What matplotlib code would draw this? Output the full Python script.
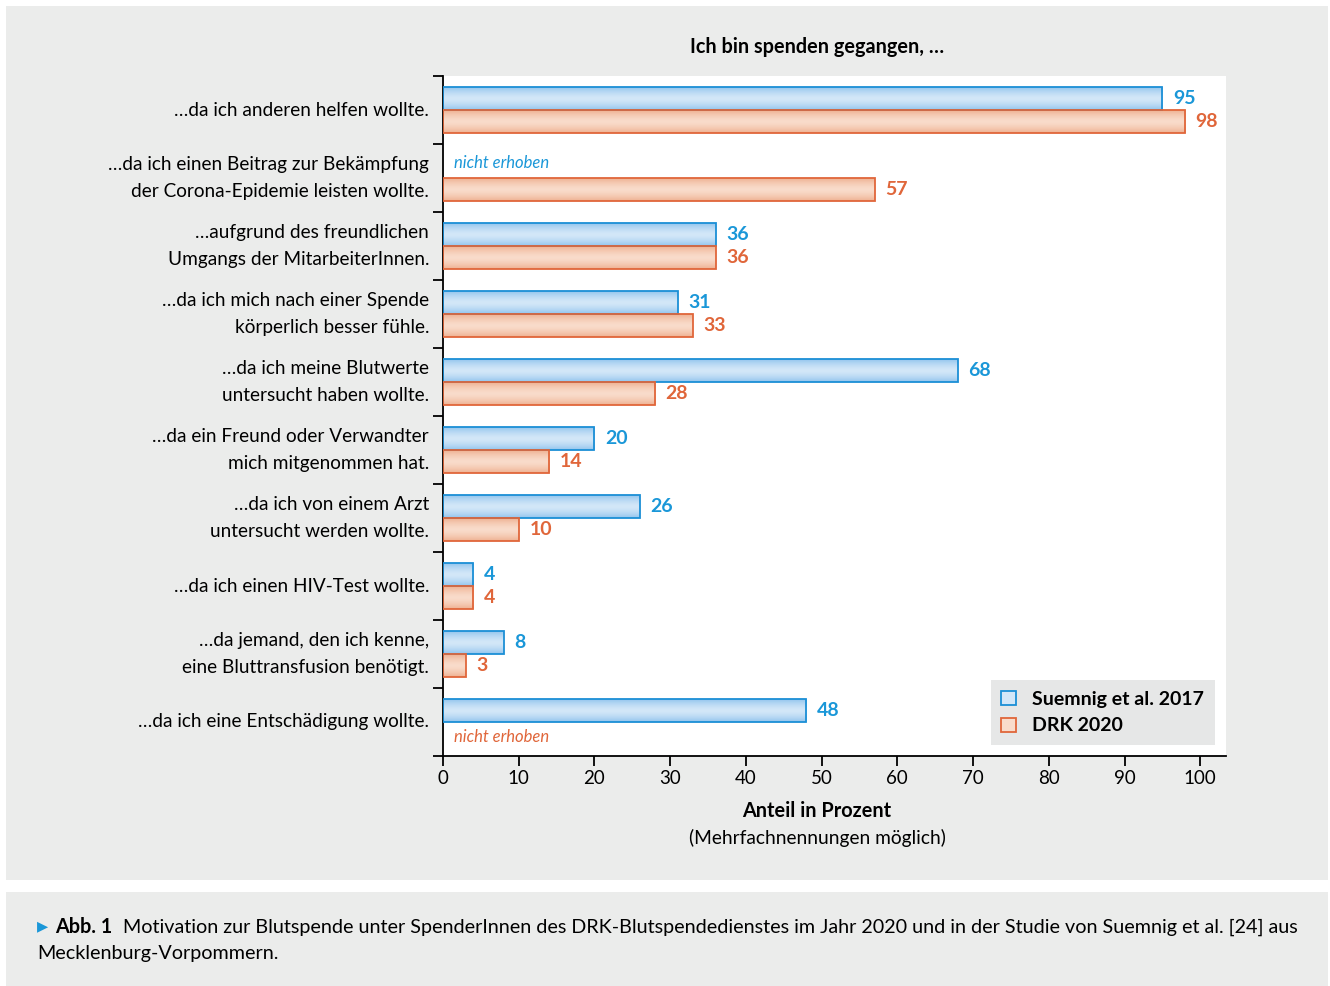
import numpy as np
import matplotlib.pyplot as plt
from matplotlib.patches import Rectangle, Patch

plt.rcParams.update({
    "font.family": ["Lato", "DejaVu Sans"],
    "font.size": 13,
})

categories = [
    "…da ich anderen helfen wollte.",
    "…da ich einen Beitrag zur Bekämpfung\nder Corona-Epidemie leisten wollte.",
    "…aufgrund des freundlichen\nUmgangs der MitarbeiterInnen.",
    "…da ich mich nach einer Spende\nkörperlich besser fühle.",
    "…da ich meine Blutwerte\nuntersucht haben wollte.",
    "…da ein Freund oder Verwandter\nmich mitgenommen hat.",
    "…da ich von einem Arzt\nuntersucht werden wollte.",
    "…da ich einen HIV-Test wollte.",
    "…da jemand, den ich kenne,\neine Bluttransfusion benötigt.",
    "…da ich eine Entschädigung wollte.",
]
suemnig = [95, None, 36, 31, 68, 20, 26, 4, 8, 48]
drk = [98, 57, 36, 33, 28, 14, 10, 4, 3, None]
series_names = ["Suemnig et al. 2017", "DRK 2020"]

BG = "#ebeceb"
BLUE_EDGE, BLUE_TXT = "#1b8fd6", "#1a97d8"
ORG_EDGE, ORG_TXT = "#e0663a", "#e0663a"
BLUE_GRAD = ("#95c6ee", "#d3e7f8")
ORG_GRAD = ("#efb293", "#f9dccb")

fig = plt.figure(figsize=(13.3, 9.86), dpi=100)
W, H = 1330, 986
fig.patches.append(Rectangle((6 / W, 1 - 880 / H), 1322 / W, 874 / H,
                             transform=fig.transFigure, fc=BG, ec="none", zorder=-5))
fig.patches.append(Rectangle((6 / W, 0), 1322 / W, 1 - 892 / H,
                             transform=fig.transFigure, fc=BG, ec="none", zorder=-5))

ax = fig.add_axes([443 / W, 1 - 756 / H, 783 / W, 680 / H])
ax.set_facecolor("white")

bh = 0.338
XMAX = 103.4


def gradient_bar(ax, y, w, grad, edge):
    c0 = np.array(plt.matplotlib.colors.to_rgb(grad[0]))
    c1 = np.array(plt.matplotlib.colors.to_rgb(grad[1]))
    t = np.abs(np.linspace(-1, 1, 32)) ** 1.5
    img = (c1[None, :] * (1 - t[:, None]) + c0[None, :] * t[:, None])[:, None, :]
    ax.imshow(img, extent=[0, w, y + bh / 2, y - bh / 2], aspect="auto",
              interpolation="bilinear", zorder=2)
    ax.barh(y, w, height=bh, fc="none", ec=edge, lw=1.3, zorder=3)


for i, (s, d) in enumerate(zip(suemnig, drk)):
    yb = i + 0.5 - bh / 2
    yo = i + 0.5 + bh / 2
    if s is not None:
        gradient_bar(ax, yb, s, BLUE_GRAD, BLUE_EDGE)
        ax.text(s + 1.4, yb, str(s), color=BLUE_TXT, fontweight="bold",
                fontsize=14, va="center", ha="left")
    else:
        ax.text(1.5, yb - 0.05, "nicht erhoben", color=BLUE_TXT, style="italic",
                fontsize=12, va="center", ha="left")
    if d is not None:
        gradient_bar(ax, yo, d, ORG_GRAD, ORG_EDGE)
        ax.text(d + 1.4, yo, str(d), color=ORG_TXT, fontweight="bold",
                fontsize=14, va="center", ha="left")
    else:
        ax.text(1.5, yo + 0.05, "nicht erhoben", color=ORG_TXT, style="italic",
                fontsize=12, va="center", ha="left")

ax.set_xlim(0, XMAX)
ax.set_ylim(len(categories), 0)
ax.set_xticks(np.arange(0, 101, 10))
ax.set_yticks(np.arange(len(categories)) + 0.5)
ax.set_yticklabels(categories, fontsize=13.7, linespacing=1.7)
ax.set_yticks(np.arange(len(categories) + 1), minor=True)
ax.tick_params(axis="y", which="major", length=0, pad=10)
ax.tick_params(axis="y", which="minor", length=7, width=1.3, direction="out")
ax.tick_params(axis="x", length=7, width=1.3, labelsize=13.5, pad=3)
for lab in ax.get_yticklabels():
    lab.set_va("center")
    if "\n" in lab.get_text():
        lab.set_y(lab.get_position()[1])
for sp in ["top", "right"]:
    ax.spines[sp].set_visible(False)
for sp in ["left", "bottom"]:
    ax.spines[sp].set_linewidth(1.3)

handles = [Patch(fc=BLUE_GRAD[1], ec=BLUE_EDGE, lw=1.3),
           Patch(fc=ORG_GRAD[1], ec=ORG_EDGE, lw=1.3)]
leg = ax.legend(handles, series_names, loc="lower right",
                bbox_to_anchor=(0.986, 0.016), borderaxespad=0, frameon=True,
                fancybox=False, prop={"weight": "bold", "size": 14},
                handlelength=0.75, handleheight=0.75, handletextpad=0.85,
                labelspacing=0.5, borderpad=0.55)
leg.get_frame().set_facecolor("#e6e7e7")
leg.get_frame().set_edgecolor("none")
leg.get_frame().set_alpha(1)

fig.text(817 / W, 1 - 47 / H, "Ich bin spenden gegangen, …", ha="center",
         va="center", fontweight="bold", fontsize=14.3)
fig.text(817 / W, 1 - 811 / H, "Anteil in Prozent", ha="center", va="center",
         fontweight="bold", fontsize=14.3)
fig.text(817 / W, 1 - 838 / H, "(Mehrfachnennungen möglich)", ha="center",
         va="center", fontsize=13.8)

fig.text(37 / W, 1 - 926 / H, "▸", color=BLUE_TXT, ha="left", va="center",
         fontsize=16, family=["DejaVu Sans"])
fig.text(55 / W, 1 - 927 / H, "Abb. 1", ha="left", va="center",
         fontweight="bold", fontsize=14.2)
fig.text(123 / W, 1 - 927 / H,
         "Motivation zur Blutspende unter SpenderInnen des DRK-Blutspendedienstes "
         "im Jahr 2020 und in der Studie von Suemnig et al. [24] aus",
         ha="left", va="center", fontsize=14.2)
fig.text(37 / W, 1 - 953 / H, "Mecklenburg-Vorpommern.", ha="left",
         va="center", fontsize=14.2)

fig.savefig("out.png", dpi=100, facecolor="white")
